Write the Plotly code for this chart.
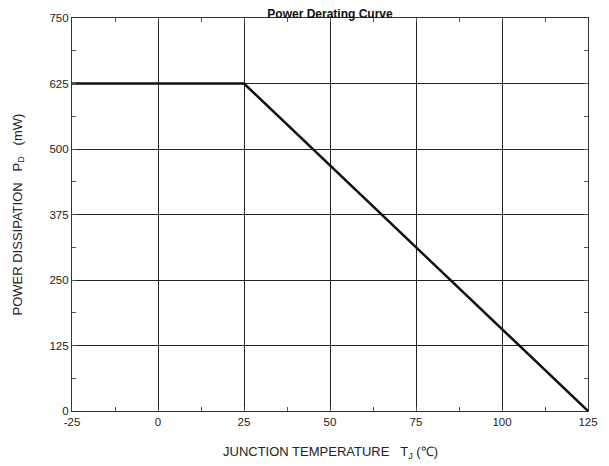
import plotly.graph_objects as go

temperature = [-25, 25, 125]
power_mw = [625, 625, 0]
x_ticks = [-25, 0, 25, 50, 75, 100, 125]
y_ticks = [0, 125, 250, 375, 500, 625, 750]

fig = go.Figure()
fig.add_trace(go.Scatter(x=temperature, y=power_mw, mode="lines",
                         line=dict(color="#111111", width=2.5), showlegend=False,
                         cliponaxis=False))

font = "Liberation Sans, Arial, sans-serif"
axis_common = dict(
    showline=True, linecolor="#333333", linewidth=1.2, mirror="allticks",
    showgrid=True, gridcolor="#222222", gridwidth=1, automargin=False,
    zeroline=False, ticks="inside", ticklen=0, tickcolor="#333333",
    tickfont=dict(family=font, size=11.5, color="#222222"),
)
fig.update_xaxes(range=[-25, 125], tickvals=x_ticks, ticktext=[str(v) for v in x_ticks],
                 minor=dict(dtick=12.5, tick0=-25, ticks="inside", ticklen=4, tickcolor="#555555", showgrid=False),
                 **axis_common)
fig.update_yaxes(range=[0, 750], tickvals=y_ticks, ticktext=[str(v) for v in y_ticks],
                 minor=dict(dtick=62.5, tick0=0, ticks="inside", ticklen=4, tickcolor="#555555", showgrid=False),
                 **axis_common)

label_font = dict(family=font, size=13, color="#222222")
fig.add_annotation(text="JUNCTION TEMPERATURE &nbsp;&nbsp;T<sub>J</sub> (℃)",
                   xref="paper", yref="paper", x=0.5, y=0, yshift=-41,
                   xanchor="center", yanchor="middle", showarrow=False, font=label_font)
fig.add_annotation(text="POWER DISSIPATION &nbsp;&nbsp;P<sub>D</sub> &nbsp;&nbsp;(mW)",
                   xref="paper", yref="paper", x=0, y=0.5, xshift=-54, textangle=-90,
                   xanchor="center", yanchor="middle", showarrow=False, font=label_font)

fig.update_layout(
    width=601, height=458,
    margin=dict(l=64, r=21, t=10, b=55),
    paper_bgcolor="white", plot_bgcolor="white",
    title=dict(text="<b>Power Derating Curve</b>", x=0.5,
               xanchor="center", xref="paper",
               y=1 - 6/458, yref="container", yanchor="middle",
               font=dict(family=font, size=12, color="#111111")),
)
fig.write_html("out.html")
